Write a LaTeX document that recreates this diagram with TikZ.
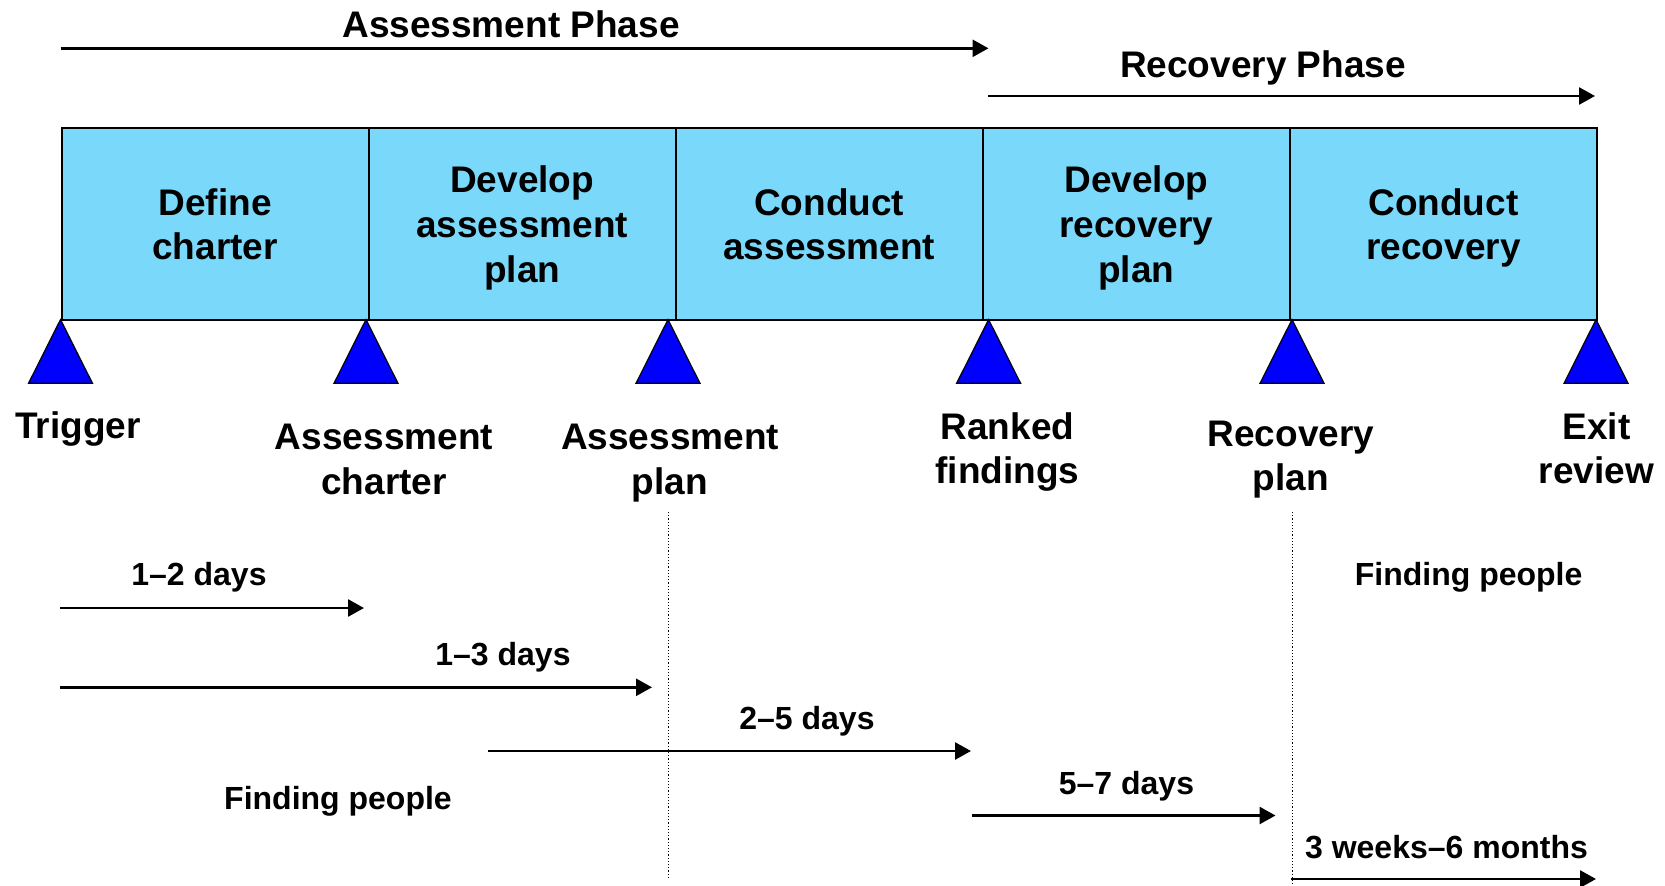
\documentclass[tikz,border=0pt]{standalone}
\usepackage{fontspec}
\setmainfont{Liberation Sans}
\usetikzlibrary{arrows.meta}
\definecolor{cellblue}{RGB}{122,217,250}
\definecolor{triblue}{RGB}{0,0,255}
\begin{document}
\begin{tikzpicture}[x=1pt,y=-1pt,
 cell/.style={draw=black, line width=2pt, fill=cellblue, minimum width=307.1pt, minimum height=191.1pt, inner sep=0pt, anchor=west, align=center, text depth=0pt, font=\bfseries\fontsize{37}{44.6}\selectfont},
 big/.style={font=\bfseries\fontsize{37}{44.6}\selectfont, align=center, anchor=base, inner sep=0pt},
 small/.style={font=\bfseries\fontsize{32}{38}\selectfont, anchor=base, inner sep=0pt},
 arr/.style={line width=2.7pt, -{Triangle[length=16pt,width=17pt]}},
 tri/.style={fill=triblue, draw=black, line width=1.2pt, line join=miter},
 guide/.style={line width=1pt, dash pattern=on 1.2pt off 2pt}]
\useasboundingbox (0,0) rectangle (1665,886);

% phase arrows
\coordinate (aps) at (60.5,48.3);
\coordinate (ape) at (988.5,48.3);
\coordinate (rps) at (988,96);
\coordinate (rpe) at (1595,96);
\draw[arr] (aps) -- (ape);
\draw[arr] (rps) -- (rpe);
\node[big] (aphase) at (511,37.5) {Assessment Phase};
\node[big] (rphase) at (1263,77.5) {Recovery Phase};

% cells
\node[cell] (c1) at (60.5,224) {Define\\charter};
\node[cell] (c2) at (367.6,224) {Develop\\assessment\\plan};
\node[cell] (c3) at (674.7,224) {Conduct\\assessment};
\node[cell] (c4) at (981.8,224) {Develop\\recovery\\plan};
\node[cell] (c5) at (1288.9,224) {Conduct\\recovery};

% milestones
\coordinate (m1) at (60.5,319.6);
\coordinate (m2) at (366,319.6);
\coordinate (m3) at (668,319.6);
\coordinate (m4) at (988.6,319.6);
\coordinate (m5) at (1292,319.6);
\coordinate (m6) at (1596,319.6);
\foreach \m in {m1,m2,m3,m4,m5,m6}
  \draw[tri] (\m) -- ++(-32,63.7) -- ++(64,0) -- cycle;

% milestone labels (base anchor = baseline of last line)
\node[big] (l1) at (78,438) {Trigger};
\node[big] (l2) at (384,494) {Assessment\\charter};
\node[big] (l3) at (670,494) {Assessment\\plan};
\node[big] (l4) at (1007.5,483.7) {Ranked\\findings};
\node[big] (l5) at (1291,490.7) {Recovery\\plan};
\node[big] (l6) at (1596.5,483.7) {Exit\\review};

% guide lines
\coordinate (g1s) at (668.4,512);
\coordinate (g1e) at (668.4,877);
\coordinate (g2s) at (1292.6,512);
\coordinate (g2e) at (1292.6,886);
\draw[guide] (g1s) -- (g1e);
\draw[guide] (g2s) -- (g2e);

% duration arrows
\coordinate (d1s) at (60,608);   \coordinate (d1e) at (364,608);
\coordinate (d2s) at (60,687.3); \coordinate (d2e) at (652,687.3);
\coordinate (d3s) at (488,751);  \coordinate (d3e) at (971,751);
\coordinate (d4s) at (972,815.5); \coordinate (d4e) at (1275.5,815.5);
\coordinate (d5s) at (1291,879); \coordinate (d5e) at (1596,879);
\draw[arr] (d1s) -- (d1e);
\draw[arr] (d2s) -- (d2e);
\draw[arr] (d3s) -- (d3e);
\draw[arr] (d4s) -- (d4e);
\draw[arr] (d5s) -- (d5e);

\node[small] (t1) at (199,585) {1--2 days};
\node[small] (t2) at (503,665) {1--3 days};
\node[small] (t3) at (807,729) {2--5 days};
\node[small] (fp1) at (338,809) {Finding people};
\node[small] (fp2) at (1468.6,585) {Finding people};
\node[small] (t4) at (1126.5,794) {5--7 days};
\node[small] (t5) at (1446.5,858) {3 weeks--6 months};
\end{tikzpicture}
\end{document}
